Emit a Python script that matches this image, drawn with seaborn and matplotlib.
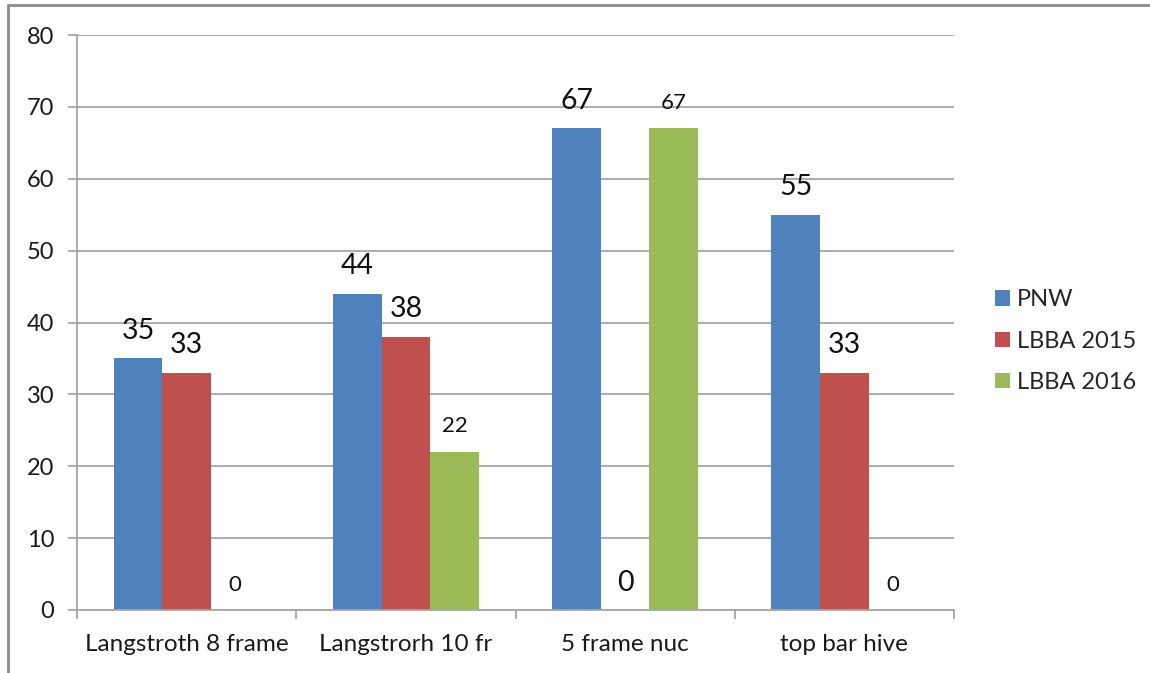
import matplotlib
matplotlib.use("Agg")
import matplotlib.pyplot as plt
import seaborn as sns
import pandas as pd
from matplotlib.lines import Line2D
from matplotlib.patches import Patch

categories = ["Langstroth 8 frame", "Langstrorh 10 fr", "5 frame nuc", "top bar hive"]
series_names = ["PNW", "LBBA 2015", "LBBA 2016"]
pnw = [35, 44, 67, 55]
lbba2015 = [33, 38, 0, 33]
lbba2016 = [0, 22, 67, 0]
y_ticks = [0, 10, 20, 30, 40, 50, 60, 70, 80]

colors = ["#4F81BD", "#C0504D", "#9BBB59"]
label_sizes = {"PNW": 20.5, "LBBA 2015": 20.5, "LBBA 2016": 16}

rows = []
for name, vals in zip(series_names, [pnw, lbba2015, lbba2016]):
    for c, v in zip(categories, vals):
        rows.append({"category": c, "series": name, "value": v})
df = pd.DataFrame(rows)

sns.set_theme(style="white")
plt.rcParams["font.family"] = ["Lato", "DejaVu Sans"]

fig = plt.figure(figsize=(11.5, 6.73), dpi=100)
ax = fig.add_axes([77/1150, 1-610/673, (954-77)/1150, (610-35)/673])

sns.barplot(data=df, x="category", y="value", hue="series", order=categories,
            hue_order=series_names, palette=colors, width=0.665, ax=ax,
            saturation=1, legend=False, errorbar=None, linewidth=0)

ax.set_ylim(0, 80)
ax.set_xlim(-0.5, len(categories) - 0.5)
ax.set_yticks(y_ticks)
ax.set_yticklabels([str(t) for t in y_ticks])
ax.yaxis.grid(True, color="#A6A6A6", linewidth=1.3)
ax.set_axisbelow(True)
ax.set_xlabel("")
ax.set_ylabel("")
for s in ["top", "right"]:
    ax.spines[s].set_visible(False)
for s in ["left", "bottom"]:
    ax.spines[s].set_color("#A6A6A6")
    ax.spines[s].set_linewidth(1.3)

ax.tick_params(axis="y", which="major", length=6.5, width=1.3, color="#A6A6A6",
               direction="out", pad=10, labelsize=17, labelcolor="#1a1a1a", left=True)
ax.tick_params(axis="x", which="major", length=0, pad=17, labelsize=17.5, labelcolor="#1a1a1a")
ax.set_xticks([i - 0.5 for i in range(len(categories) + 1)], minor=True)
ax.tick_params(axis="x", which="minor", length=6.5, width=1.3, color="#A6A6A6",
               direction="out", bottom=True)

# data labels
for cont, name in zip(ax.containers, series_names):
    for bar in cont:
        h = bar.get_height()
        ax.annotate(f"{h:.0f}", (bar.get_x() + bar.get_width()/2, h),
                    xytext=(0, 14), textcoords="offset points",
                    ha="center", va="baseline", fontsize=label_sizes[name],
                    color="#111111")

handles = [Patch(facecolor=c, edgecolor="none") for c in colors]
fig.legend(handles, series_names, loc="center left",
           bbox_to_anchor=(995/1150, 1-341/673), frameon=False, fontsize=17,
           handlelength=0.62, handleheight=0.62, handletextpad=0.3,
           labelspacing=0.85, borderaxespad=0, borderpad=0)

# outer chart border (top and left visible in crop)
fig.add_artist(Line2D([8/1150, 1], [1-5/673, 1-5/673], transform=fig.transFigure,
                      color="#8C8C8C", linewidth=2))
fig.add_artist(Line2D([8/1150, 8/1150], [0, 1-5/673], transform=fig.transFigure,
                      color="#8C8C8C", linewidth=2))

fig.savefig("out.png", dpi=100, facecolor="white")
